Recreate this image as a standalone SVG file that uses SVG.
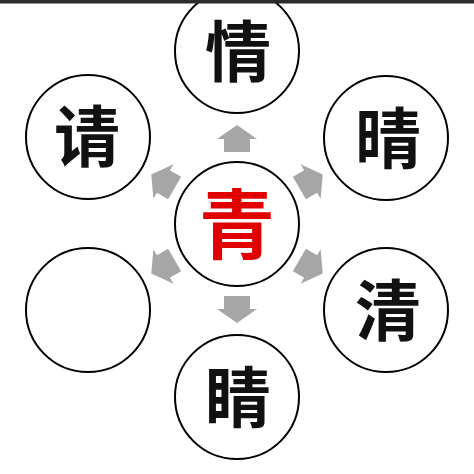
<svg xmlns="http://www.w3.org/2000/svg" width="474" height="474" viewBox="0 0 474 474">
  <style>
    .node circle { fill: #ffffff; stroke: #000000; stroke-width: 2; }
    .node text { font-family: "Noto Sans CJK SC", "Noto Sans CJK TC", sans-serif; font-weight: 700; text-anchor: middle; fill: #111111; font-size: 66px; }
    #n-center text { fill: #e00000; font-size: 76px; }
    .arrow { fill: #a6a6a6; }
  </style>
  <defs>
    <path id="arrowUp" d="M 0 -99 L 20 -85 L 13 -85 L 13 -72 L -13 -72 L -13 -85 L -20 -85 Z"/>
  </defs>
  <rect x="0" y="0" width="474" height="474" fill="#ffffff"/>
  <g id="connectors" class="arrow">
    <use href="#arrowUp" transform="translate(237 224) rotate(0)"/>
    <use href="#arrowUp" transform="translate(237 224) rotate(60)"/>
    <use href="#arrowUp" transform="translate(237 224) rotate(120)"/>
    <use href="#arrowUp" transform="translate(237 224) rotate(180)"/>
    <use href="#arrowUp" transform="translate(237 224) rotate(240)"/>
    <use href="#arrowUp" transform="translate(237 224) rotate(300)"/>
  </g>
  <g id="n-center" class="node">
    <circle cx="237" cy="224" r="62"/>
    <text x="237" y="253">青</text>
  </g>
  <g id="n-top" class="node">
    <circle cx="237" cy="51" r="62"/>
    <text x="238" y="76">情</text>
  </g>
  <g id="n-topright" class="node">
    <circle cx="386" cy="138" r="62"/>
    <text x="388" y="163">晴</text>
  </g>
  <g id="n-bottomright" class="node">
    <circle cx="386" cy="310" r="62"/>
    <text x="388" y="335">清</text>
  </g>
  <g id="n-bottom" class="node">
    <circle cx="237" cy="397" r="62"/>
    <text x="238" y="422">睛</text>
  </g>
  <g id="n-bottomleft" class="node">
    <circle cx="88" cy="310" r="62"/>
  </g>
  <g id="n-topleft" class="node">
    <circle cx="88" cy="137" r="62"/>
    <text x="87" y="161">请</text>
  </g>
  <rect x="0" y="0" width="474" height="3.5" fill="#2b2b2b"/>
</svg>
